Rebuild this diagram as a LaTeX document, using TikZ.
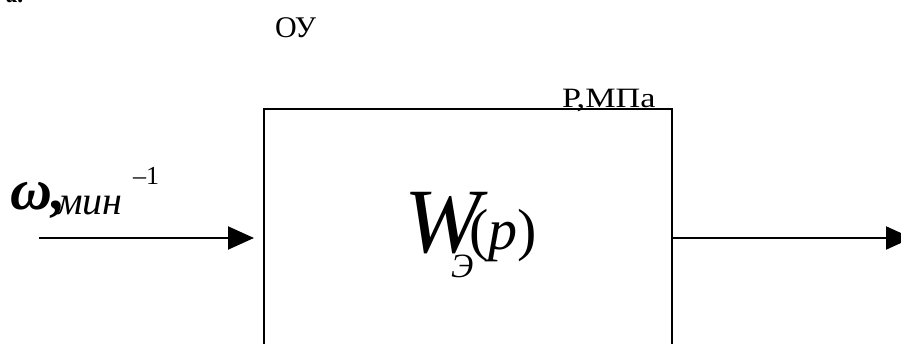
\documentclass[tikz,border=0pt]{standalone}
\usepackage{fontspec}
\setmainfont{Liberation Serif}
\usetikzlibrary{arrows.meta}
\tikzset{
  conn/.style={line width=2pt,-{Triangle[length=26pt,width=23pt]}},
  blockbox/.style={draw,line width=2pt,minimum width=408pt,minimum height=258pt,inner sep=0pt},
  lbl/.style={inner sep=0pt,outer sep=0pt}
}
\begin{document}
\begin{tikzpicture}[x=1pt,y=-1pt]
\useasboundingbox (0,0) rectangle (901,344);
\clip (0,0) rectangle (901,344);
% cut-off label at top left
\node[lbl,anchor=base west] (tag) at (6,3) {\fontsize{24}{24}\selectfont\bfseries\itshape а.};
% block
\node[blockbox] (box) at (468,238) {};
% labels
\node[lbl,anchor=base west] (ou) at (275,38) {\fontsize{30}{30}\selectfont ОУ};
\node[lbl,anchor=base west] (pmpa) at (562,108) {\fontsize{28}{28}\selectfont\scalebox{1.22}[1]{Р,МПа}};
\node[lbl,anchor=base west] (om) at (10,210) {\fontsize{58}{58}\selectfont\bfseries\itshape ω,};
\node[lbl,anchor=base west] (min) at (57,215) {\fontsize{40}{40}\selectfont\itshape мин};
\node[lbl,anchor=base west] (exp) at (133,185) {\fontsize{26}{26}\selectfont –1};
\node[lbl,anchor=base west] (W) at (404,253) {\fontsize{92}{92}\selectfont\itshape W};
\node[lbl,anchor=base west] (sub) at (451,278) {\fontsize{34}{34}\selectfont\itshape Э};
\node[lbl,anchor=base west] (arg) at (469,250) {\fontsize{58}{58}\selectfont(\textit{p})};
% connectors
\coordinate (inp) at (39,238);
\coordinate (outp) at (912,238);
\draw[conn,shorten >=9pt] (inp) -- (box.west);
\draw[conn] (box.east) -- (outp);
\end{tikzpicture}
\end{document}
